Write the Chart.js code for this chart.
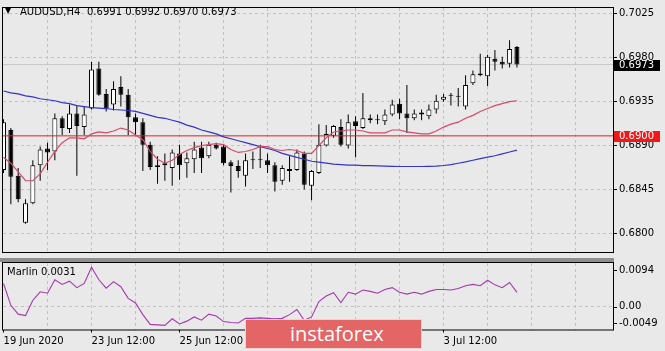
<!DOCTYPE html>
<html>
<head>
<meta charset="utf-8">
<script src="https://cdn.jsdelivr.net/npm/chart.js@4.4.0/dist/chart.umd.min.js"></script>
<style>
html, body { margin: 0; padding: 0; background: #e9e9e9; }
#wrap { position: relative; width: 665px; height: 351px; overflow: hidden; font-family: "DejaVu Sans", sans-serif; color: #000; }
canvas { position: absolute; left: 0; }
#main { top: 0; }
#sub { top: 262px; }
.sep { position: absolute; left: 0; top: 258px; width: 614px; height: 4px; background: #8e8e8e; }
.txt { position: absolute; font-size: 10px; line-height: 12px; white-space: pre; }
.tri { position: absolute; left: 5px; top: 6px; font-size: 8px; line-height: 10px; }
.logo { position: absolute; left: 245px; top: 319px; width: 175px; height: 28px; background: #e36565; border: 1px solid #f3d0d0;
        color: #fff; font-family: "Open Sans", sans-serif; font-size: 20px; line-height: 27px; }
.logo span { position: absolute; left: 44px; top: 0; }
</style>
</head>
<body>
<div id="wrap">
  <canvas id="main" width="665" height="260"></canvas>
  <div class="sep"></div>
  <canvas id="sub" width="665" height="89"></canvas>
  <div class="tri">▼</div>
  <div class="txt" id="sym" style="left:20px;top:6px;">AUDUSD,H4</div>
  <div class="txt" id="ohlc" style="left:87px;top:6px;"></div>
  <div class="txt" id="oscName" style="left:7px;top:266px;"></div>
  <div class="logo"><span>instaforex</span></div>
</div>
<script>
// AUDUSD H4 candles, one entry per bar (19 Jun 12:00 .. 7 Jul 04:00)
const opens = [0.6865,0.6906,0.6859,0.6811,0.6831,0.6870,0.6887,0.6884,0.6918,0.6907,
  0.6923,0.6909,0.6928,0.6969,0.6943,0.6932,0.6950,0.6942,0.6919,0.6914,
  0.6891,0.6870,0.6872,0.6867,0.6882,0.6872,0.6876,0.6888,0.6879,0.6891,
  0.6889,0.6873,0.6869,0.6859,0.6875,0.6876,0.6875,0.6870,0.6854,0.6866,
  0.6865,0.6882,0.6849,0.6862,0.6890,0.6900,0.6909,0.6890,0.6915,0.6908,
  0.6918,0.6916,0.6915,0.6922,0.6933,0.6923,0.6918,0.6924,0.6920,0.6927,
  0.6937,0.6941,0.6941,0.6930,0.6954,0.6962,0.6961,0.6979,0.6976,0.6974,
  0.6991];
const highs = [0.6917,0.6908,0.6867,0.6835,0.6875,0.6889,0.6893,0.6923,0.6920,0.6932,
  0.6931,0.6930,0.6976,0.6976,0.6948,0.6956,0.6961,0.6948,0.6923,0.6918,
  0.6894,0.6879,0.6882,0.6886,0.6891,0.6883,0.6894,0.6894,0.6894,0.6893,
  0.6891,0.6875,0.6875,0.6882,0.6884,0.6891,0.6882,0.6873,0.6870,0.6879,
  0.6886,0.6884,0.6865,0.6912,0.6911,0.6911,0.6917,0.6922,0.6920,0.6944,
  0.6922,0.6922,0.6927,0.6937,0.6938,0.6952,0.6927,0.6927,0.6932,0.6942,
  0.6943,0.6944,0.6949,0.6962,0.6967,0.6984,0.6983,0.6988,0.6981,0.6998,
  0.6992];
const lows = [0.6862,0.6830,0.6832,0.6810,0.6830,0.6854,0.6865,0.6875,0.6901,0.6903,
  0.6859,0.6901,0.6927,0.6941,0.6925,0.6926,0.6930,0.6901,0.6901,0.6864,
  0.6865,0.6851,0.6854,0.6849,0.6855,0.6857,0.6862,0.6862,0.6877,0.6886,
  0.6870,0.6842,0.6857,0.6848,0.6866,0.6867,0.6862,0.6843,0.6850,0.6853,
  0.6864,0.6845,0.6834,0.6861,0.6889,0.6898,0.6889,0.6887,0.6878,0.6907,
  0.6913,0.6912,0.6911,0.6920,0.6917,0.6903,0.6916,0.6916,0.6917,0.6923,
  0.6935,0.6931,0.6930,0.6927,0.6952,0.6961,0.6951,0.6967,0.6969,0.6970,
  0.6970];
const closes = [0.6914,0.6858,0.6835,0.6831,0.6870,0.6886,0.6883,0.6918,0.6908,0.6923,
  0.6910,0.6922,0.6968,0.6942,0.6928,0.6948,0.6942,0.6919,0.6914,0.6891,
  0.6868,0.6868,0.6870,0.6883,0.6870,0.6877,0.6886,0.6877,0.6891,0.6887,
  0.6872,0.6869,0.6864,0.6875,0.6876,0.6875,0.6870,0.6853,0.6867,0.6864,
  0.6883,0.6850,0.6864,0.6891,0.6902,0.6910,0.6891,0.6914,0.6910,0.6918,
  0.6916,0.6916,0.6922,0.6932,0.6923,0.6918,0.6923,0.6922,0.6927,0.6936,
  0.6940,0.6941,0.6940,0.6952,0.6963,0.6964,0.6981,0.6976,0.6973,0.6989,
  0.6973];

// moving averages
const maSlow = [0.6946,0.6944,0.6943,0.6941,0.6940,0.6938,0.6937,0.6936,0.6934,0.6933,
  0.6931,0.6930,0.6929,0.69285,0.6928,0.6927,0.69265,0.6926,0.6925,0.6923,
  0.6921,0.6919,0.6918,0.6916,0.6914,0.6911,0.6909,0.6906,0.6904,0.6902,
  0.6899,0.6897,0.6895,0.6893,0.6891,0.6889,0.6887,0.6885,0.6882,0.6880,
  0.6878,0.6876,0.6874,0.6873,0.6872,0.6871,0.68706,0.6870,0.6870,0.68696,
  0.68694,0.68692,0.68689,0.68687,0.68686,0.68686,0.68686,0.68686,0.68687,0.68689,
  0.68696,0.68706,0.68719,0.68733,0.6875,0.68767,0.68782,0.68796,0.68816,0.68835,
  0.68854];
const maFast = [0.6878,0.6872,0.6863,0.6854,0.6854,0.6861,0.6873,0.6884,0.6893,0.6898,
  0.6898,0.6897,0.6902,0.6904,0.6903,0.6905,0.6908,0.6906,0.6901,0.6896,
  0.6884,0.6876,0.6872,0.6875,0.6881,0.6885,0.6888,0.6890,0.6891,0.6892,
  0.6891,0.6886,0.6883,0.6884,0.6886,0.6889,0.6889,0.6886,0.6885,0.6886,
  0.6885,0.6882,0.6882,0.6890,0.6898,0.6904,0.6905,0.6906,0.6906,0.6905,
  0.6903,0.6903,0.6903,0.6906,0.6906,0.6904,0.6903,0.6902,0.6902,0.6905,
  0.6909,0.6912,0.6914,0.6918,0.6921,0.6925,0.6928,0.6931,0.6933,0.6935,
  0.6936];

// Marlin oscillator
const marlin = [0.0050,0.0003,-0.0016,-0.0019,0.0014,0.0032,0.0029,0.0058,0.0048,0.0055,
  0.0041,0.0050,0.0085,0.0058,0.0040,0.0054,0.0043,0.0018,0.0008,-0.0017,
  -0.0038,-0.0039,-0.0040,-0.0026,-0.0037,-0.0031,-0.0022,-0.0029,-0.0016,-0.0020,
  -0.0032,-0.0034,-0.0035,-0.0025,-0.0025,-0.0024,-0.0025,-0.0026,-0.0025,-0.0017,
  -0.0006,-0.0029,-0.0022,0.0011,0.0023,0.0030,0.0009,0.0031,0.0027,0.0036,
  0.0033,0.0029,0.0037,0.0041,0.0031,0.0027,0.0031,0.0027,0.0033,0.0037,
  0.0037,0.0036,0.0039,0.0045,0.0048,0.0045,0.0057,0.0047,0.0041,0.0052,
  0.0031];

// axes
const timeLabels = ['19 Jun 2020', '23 Jun 12:00', '25 Jun 12:00', '29 Jun 12:00', '1 Jul 12:00', '3 Jul 12:00'];
const timeLabelBars = [0, 12, 24, 36, 48, 60];
const priceTicks = [0.6800, 0.6845, 0.6890, 0.6935, 0.6980, 0.7025];
const oscTicks = [0.0094, 0, -0.0049];
const oscTickLabels = ['0.0094', '0.00', '-0.0049'];
const levelPrice = 0.6900;

const xMin = -0.07, xMax = 83.1;
const gridColor = '#c2c2c2';
const n = opens.length - 1;

// vertical grid every 6 bars (one trading day)
const gridBars = [];
for (let b = 6; b < xMax; b += 6) gridBars.push(b);

Chart.defaults.font.family = '"DejaVu Sans", sans-serif';
Chart.defaults.font.size = 10;
Chart.defaults.color = '#000';

const frame = {
    id: 'frame',
    afterDatasetsDraw(chart) {
        const { ctx, chartArea: a } = chart;
        ctx.save();
        ctx.strokeStyle = '#000';
        ctx.lineWidth = 1;
        ctx.strokeRect(a.left - 0.5, a.top - 0.5, a.right - a.left + 1, a.bottom - a.top + 1);
        ctx.restore();
    }
};

// price tags on the right axis (bid and the horizontal level)
const priceTags = {
    id: 'priceTags',
    afterDraw(chart) {
        const { ctx, chartArea: a, scales: { y } } = chart;
        const tags = [{ v: closes[n], bg: '#000' }, { v: levelPrice, bg: '#f01818' }];
        ctx.save();
        ctx.font = '10px "DejaVu Sans"';
        ctx.textBaseline = 'middle';
        tags.forEach(t => {
            const py = Math.round(y.getPixelForValue(t.v));
            ctx.fillStyle = t.bg;
            ctx.fillRect(a.right + 1, py - 5, 46, 11);
            ctx.fillStyle = '#fff';
            ctx.fillText(t.v.toFixed(4), a.right + 6, py + 0.5);
        });
        ctx.restore();
    }
};

const oscAxisLabels = {
    id: 'oscAxisLabels',
    afterDraw(chart) {
        const { ctx, chartArea: a, scales: { y } } = chart;
        ctx.save();
        ctx.font = '10px "DejaVu Sans"';
        ctx.fillStyle = '#000';
        ctx.textBaseline = 'middle';
        oscTicks.forEach((v, k) => {
            let py = y.getPixelForValue(v);
            py = Math.min(Math.max(py, a.top + 7), a.bottom - 6.5);
            ctx.fillRect(a.right, Math.round(py), 4, 1);
            ctx.fillText(oscTickLabels[k], a.right + 6, py);
        });
        ctx.restore();
    }
};

const bodyData = opens.map((o, i) => ({ x: i, y: [o, closes[i]] }));
const wickData = lows.map((l, i) => ({ x: i, y: [l, highs[i]] }));
const bodyColors = opens.map((o, i) => closes[i] >= o ? '#fff' : '#000');
const toPts = arr => arr.map((v, i) => ({ x: i, y: v }));

new Chart(document.getElementById('main'), {
    data: {
        datasets: [
            { type: 'line', data: [{ x: xMin, y: closes[n] }, { x: xMax, y: closes[n] }], borderColor: '#c6c6c6', borderWidth: 1, pointRadius: 0, order: 6 },
            { type: 'bar', data: wickData, backgroundColor: '#000', barThickness: 1, grouped: false, inflateAmount: 0, order: 5 },
            { type: 'bar', data: bodyData, backgroundColor: bodyColors, borderColor: '#000', borderWidth: 1, borderSkipped: false,
              barThickness: 5, grouped: false, minBarLength: 1, inflateAmount: 0, order: 4 },
            { type: 'line', data: [{ x: xMin, y: levelPrice }, { x: xMax, y: levelPrice }], borderColor: '#e81c1c', borderWidth: 1, pointRadius: 0, order: 3 },
            { type: 'line', data: toPts(maSlow), borderColor: '#3434c8', borderWidth: 1.2, pointRadius: 0, order: 2 },
            { type: 'line', data: toPts(maFast), borderColor: '#d6496a', borderWidth: 1.2, pointRadius: 0, order: 1 }
        ]
    },
    options: {
        responsive: false,
        animation: false,
        devicePixelRatio: 1,
        layout: { padding: { left: 3, top: 2, right: 0, bottom: 2 } },
        plugins: { legend: { display: false }, tooltip: { enabled: false } },
        scales: {
            x: {
                type: 'linear', min: xMin, max: xMax, offset: false,
                afterBuildTicks: s => { s.ticks = gridBars.map(v => ({ value: v })); },
                afterFit: s => { s.height = 0; },
                ticks: { display: false },
                grid: {
                    offset: false,
                    color: c => (c.tick && c.tick.value > 0) ? gridColor : 'rgba(0,0,0,0)',
                    drawTicks: false
                },
                border: { display: false, dash: [3, 3] }
            },
            y: {
                type: 'linear', position: 'right', min: 0.6781, max: 0.7031,
                afterBuildTicks: s => { s.ticks = priceTicks.map(v => ({ value: v })); },
                afterFit: s => { s.width = 52; },
                ticks: { callback: v => v.toFixed(4), padding: 2 },
                grid: { color: gridColor, tickColor: '#000', tickLength: 4 },
                border: { display: false, dash: [3, 3] }
            }
        }
    },
    plugins: [frame, priceTags]
});

new Chart(document.getElementById('sub'), {
    data: {
        datasets: [
            { type: 'line', data: toPts(marlin), borderColor: '#a43aac', borderWidth: 1.1, pointRadius: 0 }
        ]
    },
    options: {
        responsive: false,
        animation: false,
        devicePixelRatio: 1,
        layout: { padding: { left: 3, top: 1, right: 0, bottom: 0 } },
        plugins: { legend: { display: false }, tooltip: { enabled: false } },
        scales: {
            x: {
                type: 'linear', min: xMin, max: xMax, offset: false,
                afterBuildTicks: s => { s.ticks = [0].concat(gridBars).map(v => ({ value: v })); },
                afterFit: s => { s.height = 21.5; },
                ticks: {
                    autoSkip: false, maxRotation: 0, align: 'start', padding: 3,
                    callback: v => { const k = timeLabelBars.indexOf(v); return k >= 0 ? timeLabels[k] : ''; }
                },
                grid: {
                    offset: false,
                    color: c => (c.tick && c.tick.value > 0) ? gridColor : 'rgba(0,0,0,0)',
                    tickColor: c => (c.tick && timeLabelBars.includes(c.tick.value)) ? '#000' : 'rgba(0,0,0,0)',
                    tickLength: 3
                },
                border: { display: false, dash: [3, 3] }
            },
            y: {
                type: 'linear', position: 'right', min: -0.0049, max: 0.0094,
                afterBuildTicks: s => { s.ticks = [{ value: 0 }]; },
                afterFit: s => { s.width = 52; },
                ticks: { display: false },
                grid: { color: gridColor, drawTicks: false },
                border: { display: false, dash: [3, 3] }
            }
        }
    },
    plugins: [frame, oscAxisLabels]
});

document.getElementById('ohlc').textContent =
    [opens[n], highs[n], lows[n], closes[n]].map(v => v.toFixed(4)).join(' ');
document.getElementById('oscName').textContent = 'Marlin ' + marlin[n].toFixed(4);
</script>
</body>
</html>
